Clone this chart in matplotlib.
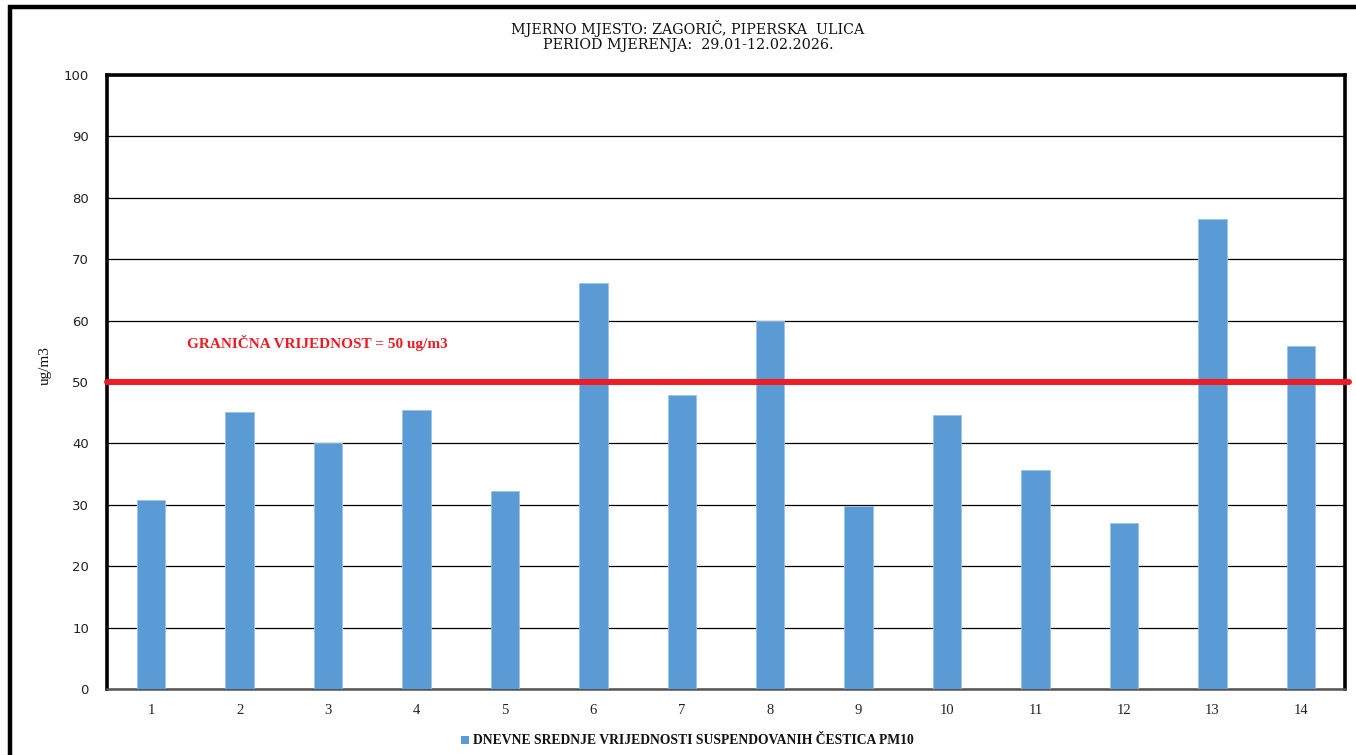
import matplotlib
matplotlib.use("Agg")
import matplotlib.pyplot as plt
from matplotlib.patches import Rectangle

days = [str(i) for i in range(1, 15)]
pm10 = [30.8, 45.1, 40.0, 45.5, 32.3, 66.2, 47.9, 60.0, 29.8, 44.6, 35.6, 27.1, 76.5, 55.9]
limit_value = 50
yticks = list(range(0, 101, 10))

title = "MJERNO MJESTO: ZAGORIČ, PIPERSKA  ULICA\nPERIOD MJERENJA:  29.01-12.02.2026."
limit_label = "GRANIČNA VRIJEDNOST = 50 ug/m3"
legend_label = "DNEVNE SREDNJE VRIJEDNOSTI SUSPENDOVANIH ČESTICA PM10"
ylabel = "ug/m3"

W, H = 1356, 755
fig = plt.figure(figsize=(W / 100, H / 100), dpi=100)
fig.patch.set_facecolor("white")

# outer border
fig.add_artist(Rectangle((10 / W, -0.05), 1.2, (H - 7) / H + 0.05, transform=fig.transFigure,
                         fill=False, edgecolor="black", linewidth=3.2))

ax = fig.add_axes([107 / W, 1 - 689 / H, (1345 - 107) / W, (689 - 75) / H])
x = list(range(len(days)))
ax.bar(x, pm10, width=0.32, color="#5b9bd5", edgecolor="#9dc3e6", linewidth=0.6, zorder=3)
ax.set_xlim(-0.5, len(days) - 0.5)
ax.set_ylim(0, 100)
ax.set_yticks(yticks)
ax.set_yticklabels([str(t) for t in yticks], fontsize=9.5, family="DejaVu Sans", color="#222222")
ax.set_xticks(x)
ax.set_xticklabels(days, fontsize=10.5, family="Liberation Serif", color="#222222")
ax.tick_params(axis="both", length=0)
ax.tick_params(axis="y", pad=13)
ax.tick_params(axis="x", pad=11)
ax.grid(axis="y", color="black", linewidth=0.9, zorder=1)
for side in ["left", "top", "right"]:
    ax.spines[side].set_linewidth(2.6)
    ax.spines[side].set_color("black")
ax.spines["bottom"].set_linewidth(1.8)
ax.spines["bottom"].set_color("#555555")

fig.text(45 / W, 1 - 366 / H, ylabel, rotation=90, ha="center", va="center",
         family="Liberation Serif", fontsize=11, color="#111111")

# limit line (slightly past the frame on the right)
ax.plot([-0.5, len(days) - 0.45], [limit_value, limit_value], color="#ee1c25", linewidth=4.3,
        solid_capstyle="round", clip_on=False, zorder=4)
ax.text(0.4, 56.3, limit_label, color="#ee1c25", fontsize=11, fontweight="bold",
        family="Liberation Serif", va="center", ha="left", zorder=5)

fig.text(688 / W, 1 - 36 / H, title, ha="center", va="center", fontsize=10.3,
         family="DejaVu Serif", linespacing=1.1, color="#111111")

# legend
fig.add_artist(Rectangle((461 / W, 1 - 744 / H), 8 / W, 8 / H, transform=fig.transFigure,
                         facecolor="#5b9bd5", edgecolor="none"))
fig.text(473 / W, 1 - 740 / H, legend_label, ha="left", va="center", fontsize=9.8,
         fontweight="bold", family="Liberation Serif", color="#111111")

fig.savefig("out.png", dpi=100)
